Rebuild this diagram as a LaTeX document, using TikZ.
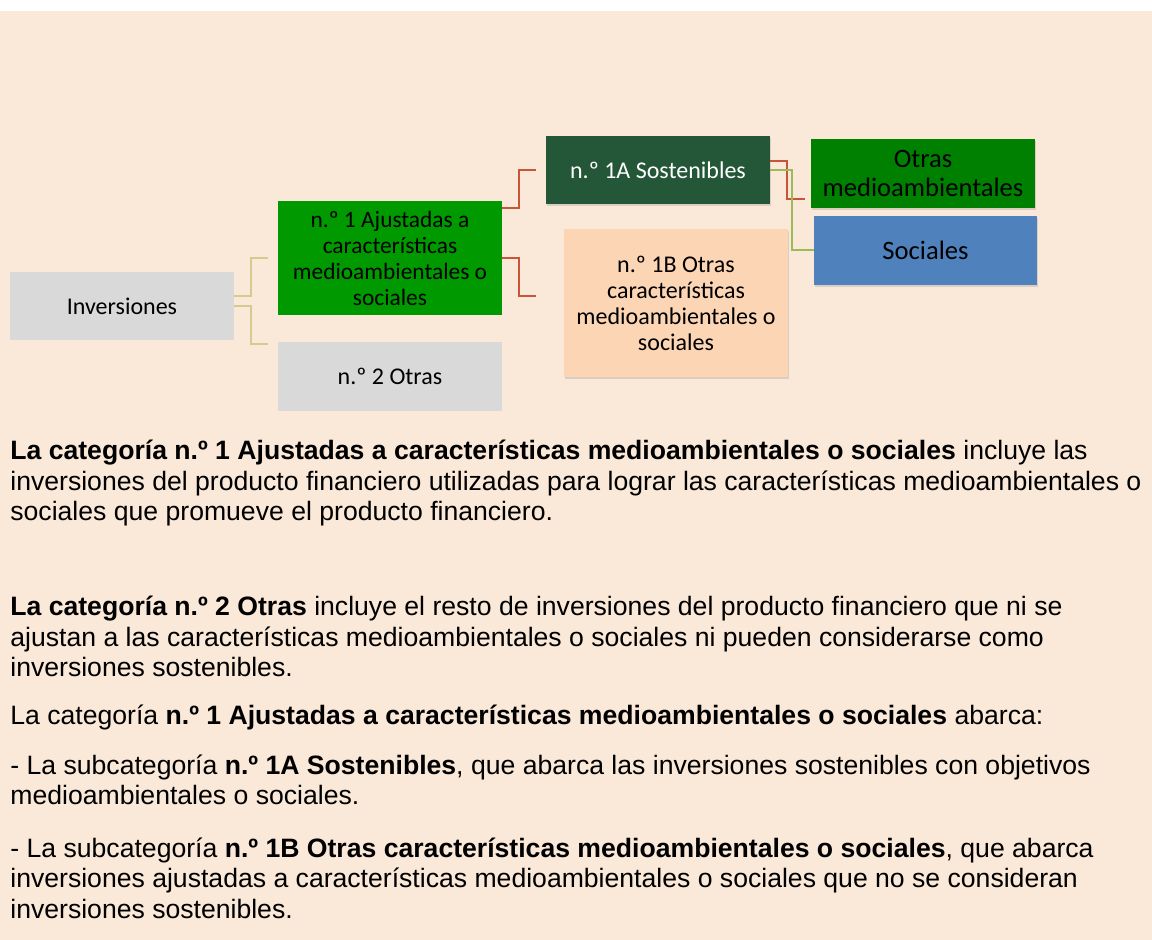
\documentclass[tikz,border=0pt]{standalone}
\usepackage{fontspec}
\setmainfont{Liberation Sans}
\newfontfamily\smartfont{Carlito}
\usetikzlibrary{shadows}

\definecolor{fondo}{HTML}{FAE8D8}
\definecolor{gris}{HTML}{D9D9D9}
\definecolor{verde}{HTML}{009900}
\definecolor{verdeosc}{HTML}{245638}
\definecolor{verdemed}{HTML}{008000}
\definecolor{azul}{HTML}{4F81BD}
\definecolor{melocoton}{HTML}{FCD5B5}
\definecolor{lineatan}{HTML}{D6CB8E}
\definecolor{linearoja}{HTML}{C8553A}
\definecolor{lineaverde}{HTML}{9BBB59}

\tikzset{
  caja/.style={minimum width=112pt, minimum height=34pt, inner sep=2pt, align=center,
    font=\smartfont\fontsize{12}{13}\selectfont},
  cajagrande/.style={caja, font=\smartfont\fontsize{13.3}{14.5}\selectfont},
  sombra/.style={drop shadow={opacity=.25, shadow xshift=.6pt, shadow yshift=-1.2pt}},
  rama/.style={line width=1pt},
  parrafo/.style={anchor=base west, inner sep=0pt, align=left,
    font=\fontsize{13.3}{15.25}\selectfont}
}

\begin{document}
\begin{tikzpicture}[x=0.5pt, y=-0.5pt]
\useasboundingbox (0,0) rectangle (1152,940);
\fill[fondo] (0,11) rectangle (1152,940);

% cajas del esquema
\node[caja, fill=gris] (inv) at (122,306) {Inversiones};
\node[caja, fill=verde, minimum height=57pt, font=\smartfont\fontsize{11.7}{13}\selectfont] (n1) at (390,258)
  {n.º 1 Ajustadas a\\características\\medioambientales o\\sociales};
\node[caja, fill=gris, minimum height=34.5pt] (n2) at (390,376.5) {n.º 2 Otras};
\node[caja, sombra, fill=verdeosc, text=white] (sA) at (658,170) {n.º 1A Sostenibles};
\node[caja, sombra, fill=melocoton, minimum height=74pt] (sB) at (676,303)
  {n.º 1B Otras\\características\\medioambientales o\\sociales};
\node[cajagrande, sombra, fill=verdemed, minimum height=34.5pt] (oma) at (923,173.5)
  {Otras\\medioambientales};
\node[cajagrande, sombra, fill=azul, minimum width=111.5pt, minimum height=34.5pt] (soc) at (925.5,250.5)
  {Sociales};

% ramas
\draw[rama, lineatan] ([yshift=5pt]inv.east) -- ++(17,0) |- ([xshift=-5pt]n1.west);
\draw[rama, lineatan] (inv.east) -- ++(17,0) |- ([xshift=-5pt, yshift=-1pt]n2.north west);
\draw[rama, linearoja] ([yshift=25pt]n1.east) -- ++(17,0) |- ([xshift=-5pt]sA.west);
\draw[rama, linearoja] (n1.east) -- ++(17,0) |- ([xshift=-14pt, yshift=3.5pt]sB.west);
\draw[rama, linearoja] ([yshift=4.5pt]sA.east) -- ++(17,0) |- ([xshift=-3pt, yshift=-12.75pt]oma.west);
\draw[rama, lineaverde] (sA.east) -- ++(22,0) |- (soc.west);

% texto (base = ultima linea)
\node[parrafo] (p1) at (10,521)
  {\textbf{La categoría n.º 1 Ajustadas a características medioambientales o sociales} incluye las\\
   inversiones del producto financiero utilizadas para lograr las características medioambientales o\\
   sociales que promueve el producto financiero.};
\node[parrafo] (p2) at (10,677)
  {\textbf{La categoría n.º 2 Otras} incluye el resto de inversiones del producto financiero que ni se\\
   ajustan a las características medioambientales o sociales ni pueden considerarse como\\
   inversiones sostenibles.};
\node[parrafo] (p3) at (10,725)
  {La categoría \textbf{n.º 1 Ajustadas a características medioambientales o sociales} abarca:};
\node[parrafo] (p4) at (10,805)
  {- La subcategoría \textbf{n.º 1A Sostenibles}, que abarca las inversiones sostenibles con objetivos\\
   medioambientales o sociales.};
\node[parrafo] (p5) at (10,918)
  {- La subcategoría \textbf{n.º 1B Otras características medioambientales o sociales}, que abarca\\
   inversiones ajustadas a características medioambientales o sociales que no se consideran\\
   inversiones sostenibles.};
\end{tikzpicture}
\end{document}
